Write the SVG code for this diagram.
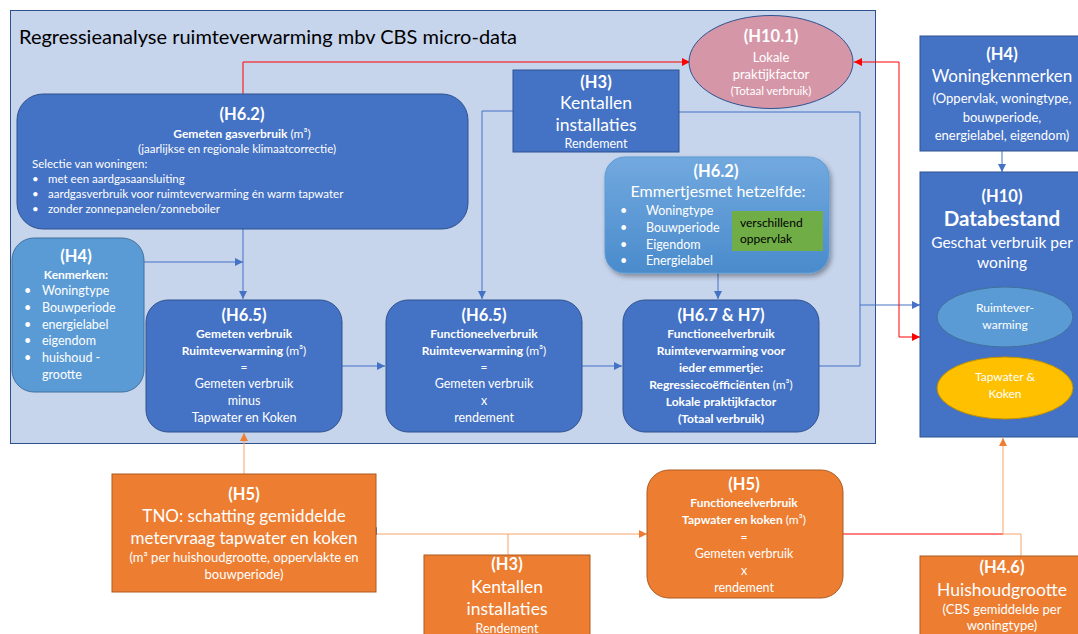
<svg xmlns="http://www.w3.org/2000/svg" width="1078" height="634" viewBox="0 0 1078 634">
<defs>
<style>
text{font-family:Lato,"Open Sans","Liberation Sans",sans-serif;fill:#fff}
.c{text-anchor:middle}
.b{font-weight:bold}
.h{font-size:16.5px;font-weight:bold}
.s12{font-size:12px}
.s11{font-size:11.5px}
.s13{font-size:12.5px}
.p13{font-size:13px}
.s18{font-size:17.5px}
.blue{fill:#4472c4;stroke:#2f528f;stroke-width:1}
.org{fill:#ed7d31;stroke:#ae5a21;stroke-width:1}
.lb{fill:#5b9bd5;stroke:#41719c;stroke-width:1}
.cb{fill:none;stroke:#4472c4;stroke-width:1}
.cr{fill:none;stroke:#ff0000;stroke-width:1}
.co{fill:none;stroke:#f4a46c;stroke-width:1}
</style>
<marker id="ab" viewBox="0 0 10 10" refX="10" refY="5" markerWidth="8" markerHeight="8" markerUnits="userSpaceOnUse" orient="auto"><path d="M0,0 L10,5 L0,10 z" fill="#4472c4"/></marker>
<marker id="ar" viewBox="0 0 10 10" refX="10" refY="5" markerWidth="8" markerHeight="8" markerUnits="userSpaceOnUse" orient="auto-start-reverse"><path d="M0,0 L10,5 L0,10 z" fill="#ff0000"/></marker>
<marker id="ao" viewBox="0 0 10 10" refX="10" refY="5" markerWidth="8" markerHeight="8" markerUnits="userSpaceOnUse" orient="auto"><path d="M0,0 L10,5 L0,10 z" fill="#ed7d31"/></marker>
<linearGradient id="gE" x1="0" y1="0" x2="0" y2="1"><stop offset="0" stop-color="#72a9df"/><stop offset="1" stop-color="#4a8bcc"/></linearGradient>
<filter id="sh" x="-10%" y="-10%" width="125%" height="130%"><feDropShadow dx="2" dy="3" stdDeviation="2.5" flood-color="#000" flood-opacity="0.35"/></filter>
</defs>

<g id="container">
<rect x="10.5" y="10.5" width="865" height="433" fill="#c6d4ec" stroke="#2f528f" stroke-width="1"/>
<text x="19" y="44" style="font-size:20px;fill:#000">Regressieanalyse ruimteverwarming mbv CBS micro-data</text>
</g>

<g id="connectors">
<path class="cb" d="M243,229 V299" marker-end="url(#ab)"/>
<path class="cb" d="M144,262 H243" marker-end="url(#ab)"/>
<path class="cb" d="M342,366 H385" marker-end="url(#ab)"/>
<path class="cb" d="M582,366 H622" marker-end="url(#ab)"/>
<path class="cb" d="M513,111 H482 V299" marker-end="url(#ab)"/>
<path class="cb" d="M679,112 H860 V366 H819"/>
<path class="cb" d="M860,305 H920" marker-end="url(#ab)"/>
<path class="cb" d="M718,273 V299" marker-end="url(#ab)"/>
<path class="cb" d="M1002,151 V172" marker-end="url(#ab)" stroke="#8eaadb"/>
<path class="cr" d="M243,94 V62 H690" marker-end="url(#ar)"/>
<path class="cr" d="M854,62 H899 V337 H920" marker-start="url(#ar)" marker-end="url(#ar)"/>
<path class="co" d="M244,474 V433" marker-end="url(#ao)"/>
<path class="co" d="M376,534 H647" marker-end="url(#ao)"/>
<polygon points="369,531 377,527 377,535" fill="#4472c4"/>
<path class="co" d="M508,555 V534"/>
<path class="cr" d="M843,534 H1003"/>
<path class="co" d="M1003,534 H1021 V556"/>
<path class="co" d="M1003,534 V438" marker-end="url(#ao)" stroke="#f8c49f"/>
</g>

<g id="h10-1">
<ellipse cx="771" cy="62" rx="82" ry="46.5" fill="#d597a8" stroke="#2f528f"/>
<text class="c h" x="771" y="42">(H10.1)</text>
<text class="c" x="771" y="62" style="font-size:13px">Lokale</text>
<text class="c" x="771" y="79" style="font-size:13px">praktijkfactor</text>
<text class="c s11" x="771" y="95">(Totaal  verbruik)</text>
</g>

<g id="h6-2-gas">
<rect class="blue" x="17" y="94" width="451" height="135" rx="26"/>
<text class="c h" x="242" y="120">(H6.2)</text>
<text class="c s12" x="242" y="138"><tspan class="b">Gemeten gasverbruik</tspan> (m³)</text>
<text class="c s11" x="237" y="153">(jaarlijkse en regionale klimaatcorrectie)</text>
<text class="s11" x="32" y="168">Selectie van woningen:</text>
<text class="s11" x="32" y="183">•</text><text class="s11" x="48" y="183">met een aardgasaansluiting</text>
<text class="s11" x="32" y="198">•</text><text class="s11" x="48" y="198">aardgasverbruik voor ruimteverwarming én warm tapwater</text>
<text class="s11" x="32" y="213">•</text><text class="s11" x="48" y="213">zonder zonnepanelen/zonneboiler</text>
</g>

<g id="h4-kenmerken">
<rect class="lb" x="12" y="238" width="132" height="154" rx="22"/>
<text class="c h" x="76" y="262">(H4)</text>
<text class="c s12 b" x="76" y="279">Kenmerken:</text>
<text class="s13" x="24" y="295">•</text><text class="s13" x="42" y="295">Woningtype</text>
<text class="s13" x="24" y="312">•</text><text class="s13" x="42" y="312">Bouwperiode</text>
<text class="s13" x="24" y="329">•</text><text class="s13" x="42" y="329">energielabel</text>
<text class="s13" x="24" y="345">•</text><text class="s13" x="42" y="345">eigendom</text>
<text class="s13" x="24" y="362">•</text><text class="s13" x="42" y="362">huishoud -</text>
<text class="s13" x="42" y="379">grootte</text>
</g>

<g id="h6-5-gemeten">
<rect class="blue" x="146" y="300" width="196" height="132" rx="22"/>
<text class="c h" x="244" y="321">(H6.5)</text>
<text class="c s12 b" x="244" y="338">Gemeten verbruik</text>
<text class="c s12" x="244" y="355"><tspan class="b">Ruimteverwarming</tspan> (m³)</text>
<text class="c s12" x="244" y="371">=</text>
<text class="c s13" x="244" y="388">Gemeten verbruik</text>
<text class="c s13" x="244" y="405">minus</text>
<text class="c s13" x="244" y="422">Tapwater en Koken</text>
</g>

<g id="h6-5-functioneel">
<rect class="blue" x="386" y="300" width="196" height="132" rx="22"/>
<text class="c h" x="484" y="321">(H6.5)</text>
<text class="c s12 b" x="484" y="338">Functioneelverbruik</text>
<text class="c s12" x="484" y="355"><tspan class="b">Ruimteverwarming</tspan> (m³)</text>
<text class="c s12" x="484" y="371">=</text>
<text class="c s13" x="484" y="388">Gemeten verbruik</text>
<text class="c s13" x="484" y="405">x</text>
<text class="c s13" x="484" y="422">rendement</text>
</g>

<g id="h6-7">
<rect class="blue" x="623" y="300" width="196" height="132" rx="22"/>
<text class="c h" x="721" y="321">(H6.7 &amp; H7)</text>
<text class="c s12 b" x="721" y="338">Functioneelverbruik</text>
<text class="c s12 b" x="721" y="355">Ruimteverwarming voor</text>
<text class="c s12 b" x="721" y="372">ieder emmertje:</text>
<text class="c s12" x="721" y="389"><tspan class="b">Regressiecoëfficiënten</tspan> (m³)</text>
<text class="c s12 b" x="721" y="406">Lokale praktijkfactor</text>
<text class="c s12 b" x="721" y="423">(Totaal verbruik)</text>
</g>

<g id="h3-blue">
<rect class="blue" x="513" y="70" width="166" height="82"/>
<text class="c h" x="596" y="88">(H3)</text>
<text class="c s18" x="596" y="109">Kentallen</text>
<text class="c s18" x="596" y="131">installaties</text>
<text class="c s13" x="596" y="148">Rendement</text>
</g>

<g id="h6-2-emmertjes">
<rect x="605" y="157" width="224" height="116" rx="20" fill="url(#gE)" stroke="#5b9bd5" filter="url(#sh)"/>
<text class="c h" x="716" y="177">(H6.2)</text>
<text class="c" x="718" y="197" style="font-size:16px">Emmertjesmet hetzelfde:</text>
<text class="s13" x="620" y="215">•</text><text class="s13" x="646" y="215">Woningtype</text>
<text class="s13" x="620" y="232">•</text><text class="s13" x="646" y="232">Bouwperiode</text>
<text class="s13" x="620" y="249">•</text><text class="s13" x="646" y="249">Eigendom</text>
<text class="s13" x="620" y="265">•</text><text class="s13" x="646" y="265">Energielabel</text>
<rect x="732" y="211" width="91" height="40" fill="#70ad47"/>
<text class="s12" x="740" y="227" style="fill:#000">verschillend</text>
<text class="s12" x="740" y="243" style="fill:#000">oppervlak</text>
</g>

<g id="h4-woningkenmerken">
<rect class="blue" x="920" y="36" width="166" height="115"/>
<text class="c h" x="1002" y="60">(H4)</text>
<text class="c" x="1002" y="82" style="font-size:17px">Woningkenmerken</text>
<text class="c p13" x="1002" y="103">(Oppervlak, woningtype,</text>
<text class="c p13" x="1002" y="122">bouwperiode,</text>
<text class="c p13" x="1002" y="140">energielabel, eigendom)</text>
</g>

<g id="h10-databestand">
<rect class="blue" x="920" y="172" width="166" height="265"/>
<text class="c h" x="1002" y="202">(H10)</text>
<text class="c b" x="1002" y="226" style="font-size:20.5px">Databestand</text>
<text class="c" x="1002" y="248" style="font-size:15.5px">Geschat verbruik per</text>
<text class="c" x="1002" y="268" style="font-size:15.5px">woning</text>
<ellipse cx="1005" cy="317" rx="68" ry="30" class="lb"/>
<text class="c s12" x="1005" y="312">Ruimtever-</text>
<text class="c s12" x="1005" y="329">warming</text>
<ellipse cx="1005" cy="388" rx="68" ry="31" fill="#ffc000" stroke="#bf9000"/>
<text class="c s12" x="1005" y="381">Tapwater &amp;</text>
<text class="c s12" x="1005" y="398">Koken</text>
</g>

<g id="h5-tno">
<rect class="org" x="112" y="474" width="264" height="118"/>
<text class="c h" x="244" y="500">(H5)</text>
<text class="c" x="244" y="522" style="font-size:17px">TNO: schatting gemiddelde</text>
<text class="c" x="244" y="544" style="font-size:17px">metervraag tapwater en koken</text>
<text class="c p13" x="244" y="562">(m³ per huishoudgrootte, oppervlakte en</text>
<text class="c p13" x="244" y="579">bouwperiode)</text>
</g>

<g id="h3-orange">
<rect class="org" x="424" y="555" width="166" height="90"/>
<text class="c h" x="507" y="570">(H3)</text>
<text class="c s18" x="507" y="593">Kentallen</text>
<text class="c s18" x="507" y="615">installaties</text>
<text class="c s13" x="507" y="633">Rendement</text>
</g>

<g id="h5-functioneel">
<rect class="org" x="647" y="470" width="196" height="128" rx="22"/>
<text class="c h" x="744" y="490">(H5)</text>
<text class="c s12 b" x="744" y="507">Functioneelverbruik</text>
<text class="c s12" x="744" y="524"><tspan class="b">Tapwater en koken</tspan> (m³)</text>
<text class="c s12" x="744" y="541">=</text>
<text class="c s13" x="744" y="558">Gemeten verbruik</text>
<text class="c s13" x="744" y="575">x</text>
<text class="c s13" x="744" y="592">rendement</text>
</g>

<g id="h4-6">
<rect class="org" x="920" y="556" width="166" height="90"/>
<text class="c h" x="1002" y="573">(H4.6)</text>
<text class="c s18" x="1002" y="596">Huishoudgrootte</text>
<text class="c p13" x="1002" y="614">(CBS gemiddelde per</text>
<text class="c p13" x="1002" y="630">woningtype)</text>
</g>
</svg>
